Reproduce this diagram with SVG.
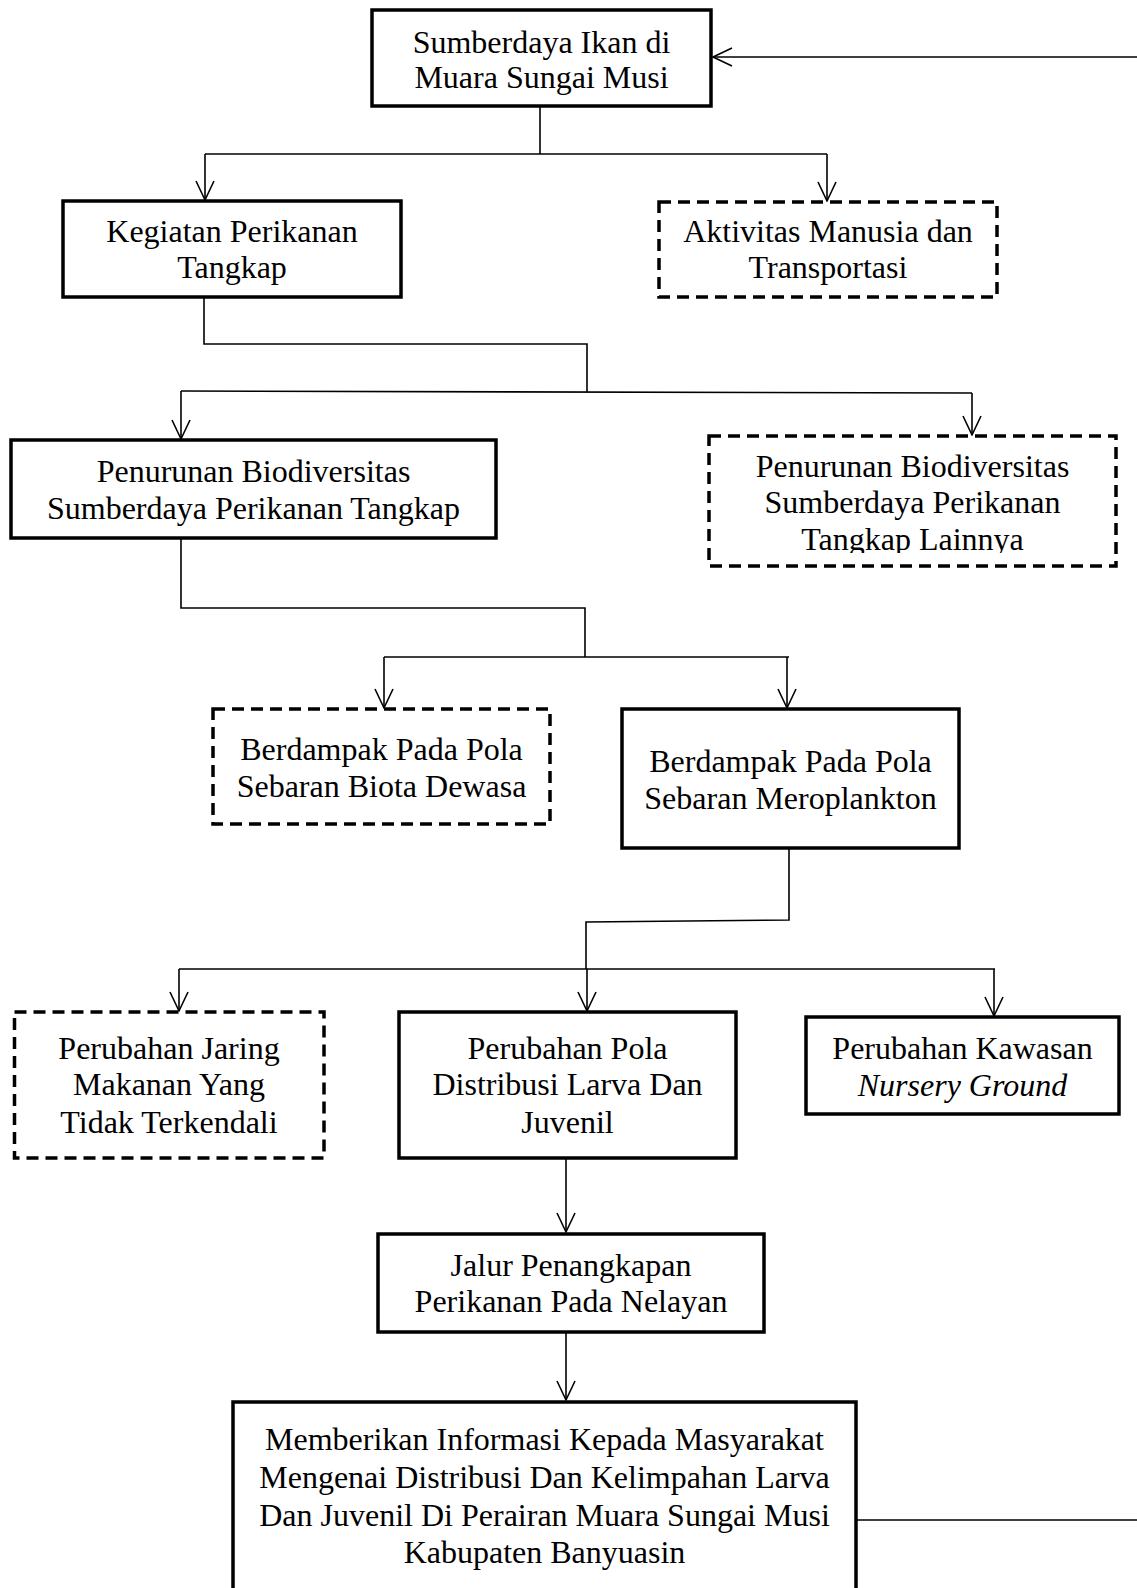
<svg xmlns="http://www.w3.org/2000/svg" width="1137" height="1588" viewBox="0 0 1137 1588">
<style>
.box{fill:#fff;stroke:#000;stroke-width:3.5}
.dash{fill:#fff;stroke:#000;stroke-width:3.5;stroke-dasharray:12 7}
.t{font-family:"Liberation Serif","Times New Roman",serif;font-size:32px;fill:#000;text-anchor:middle}
.c{fill:none;stroke:#000;stroke-width:1.6}
.a{marker-end:url(#arr)}
</style>
<defs>
<marker id="arr" markerUnits="userSpaceOnUse" markerWidth="24" markerHeight="24" viewBox="0 0 24 24" refX="20" refY="10" orient="auto">
<path d="M1,1 L20,10 L1,19" fill="none" stroke="#000" stroke-width="1.6"/>
</marker>
<clipPath id="clipL"><rect x="711" y="439" width="403" height="114"/></clipPath>
</defs>
<rect width="1137" height="1588" fill="#fff"/>
<g id="connectors">
<path class="c" d="M540,106 V154"/>
<path class="c" d="M205,154 H827"/>
<path class="c a" d="M205,154 V200"/>
<path class="c a" d="M827,154 V201"/>
<path class="c" d="M204,297 V344 H587 V392"/>
<path class="c" d="M181,391 L972,393"/>
<path class="c a" d="M181,391 V439"/>
<path class="c a" d="M972,393 V435"/>
<path class="c" d="M181,538 V608 H585 V657"/>
<path class="c" d="M384,657 H789"/>
<path class="c a" d="M384,657 V708"/>
<path class="c a" d="M787,657 V708"/>
<path class="c" d="M789,848 V920 L586,922 V969"/>
<path class="c" d="M179,969 H995"/>
<path class="c a" d="M179,969 V1011"/>
<path class="c a" d="M587,969 V1011"/>
<path class="c a" d="M994,969 V1016"/>
<path class="c a" d="M566,1158 V1232"/>
<path class="c a" d="M566,1332 V1400"/>
<path class="c" d="M856,1520 H1137"/>
<path class="c a" d="M1137,57 H713"/>
</g>
<g id="n1"><rect class="box" x="372" y="10" width="339" height="96"/>
<text class="t" x="541.5" y="53">Sumberdaya Ikan di</text><text class="t" x="541.5" y="88">Muara Sungai Musi</text></g>
<g id="n2"><rect class="box" x="63" y="201" width="338" height="96"/>
<text class="t" x="232" y="242">Kegiatan Perikanan</text><text class="t" x="232" y="278">Tangkap</text></g>
<g id="n3"><rect class="dash" x="659" y="202" width="338" height="95"/>
<text class="t" x="828" y="242">Aktivitas Manusia dan</text><text class="t" x="828" y="278">Transportasi</text></g>
<g id="n4"><rect class="box" x="11" y="440" width="485" height="98"/>
<text class="t" x="253.5" y="482">Penurunan Biodiversitas</text><text class="t" x="253.5" y="519">Sumberdaya Perikanan Tangkap</text></g>
<g id="n5"><rect class="dash" x="709" y="436" width="407" height="130"/>
<g clip-path="url(#clipL)"><text class="t" x="912.5" y="477">Penurunan Biodiversitas</text><text class="t" x="912.5" y="513">Sumberdaya Perikanan</text><text class="t" x="912.5" y="550">Tangkap Lainnya</text></g></g>
<g id="n6"><rect class="dash" x="213" y="709" width="337" height="115"/>
<text class="t" x="381.5" y="760">Berdampak Pada Pola</text><text class="t" x="381.5" y="797">Sebaran Biota Dewasa</text></g>
<g id="n7"><rect class="box" x="622" y="709" width="337" height="139"/>
<text class="t" x="790.5" y="772">Berdampak Pada Pola</text><text class="t" x="790.5" y="809">Sebaran Meroplankton</text></g>
<g id="n8"><rect class="dash" x="14.5" y="1012" width="309.5" height="146"/>
<text class="t" x="169" y="1059">Perubahan Jaring</text><text class="t" x="169" y="1095">Makanan Yang</text><text class="t" x="169" y="1133">Tidak Terkendali</text></g>
<g id="n9"><rect class="box" x="399" y="1012" width="337" height="146"/>
<text class="t" x="567.5" y="1059">Perubahan Pola</text><text class="t" x="567.5" y="1095">Distribusi Larva Dan</text><text class="t" x="567.5" y="1133">Juvenil</text></g>
<g id="n10"><rect class="box" x="806" y="1017" width="313" height="97"/>
<text class="t" x="962.5" y="1059">Perubahan Kawasan</text><text class="t" x="962.5" y="1096" font-style="italic">Nursery Ground</text></g>
<g id="n11"><rect class="box" x="378" y="1234" width="386" height="98"/>
<text class="t" x="571" y="1276">Jalur Penangkapan</text><text class="t" x="571" y="1312">Perikanan Pada Nelayan</text></g>
<g id="n12"><rect class="box" x="233" y="1402" width="623" height="210"/>
<text class="t" x="544.5" y="1450">Memberikan Informasi Kepada Masyarakat</text><text class="t" x="544.5" y="1488">Mengenai Distribusi Dan Kelimpahan Larva</text><text class="t" x="544.5" y="1526">Dan Juvenil Di Perairan Muara Sungai Musi</text><text class="t" x="544.5" y="1563">Kabupaten Banyuasin</text></g>
</svg>
